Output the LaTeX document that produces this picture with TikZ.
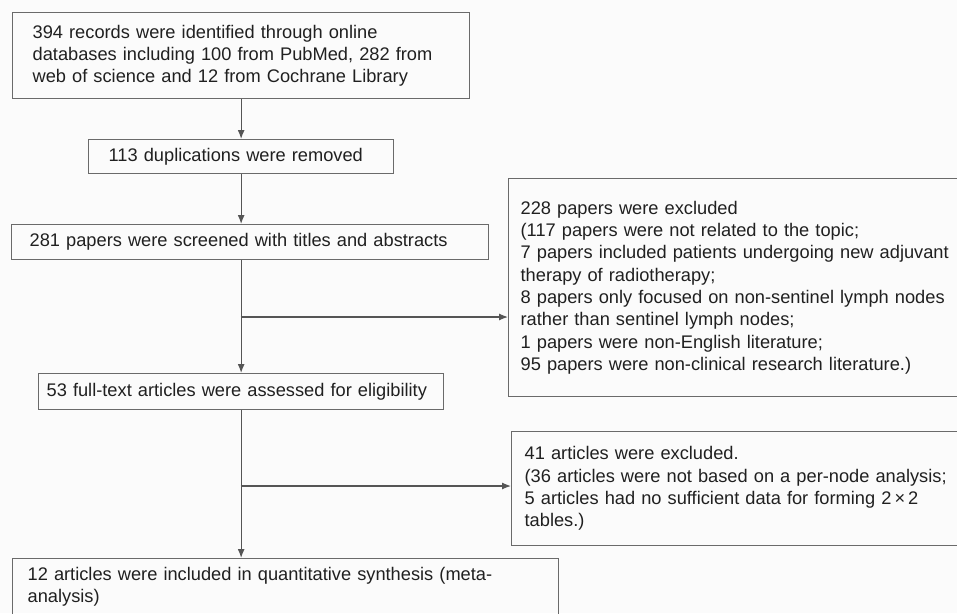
\documentclass[tikz,border=0pt]{standalone}
\usepackage{fontspec}
\setmainfont{Liberation Sans}
\usetikzlibrary{arrows.meta}
\definecolor{boxline}{HTML}{6A6A6A}
\definecolor{inktext}{HTML}{202020}
\definecolor{paper}{HTML}{FBFBFB}
\tikzset{
  stage/.style={draw=boxline, line width=1.3pt, anchor=north west, align=left,
    inner ysep=0pt, text=inktext, font=\fontsize{18.25}{22.3}\selectfont},
  flow/.style={draw=boxline!80!black, line width=1.2pt, -{Latex[length=9pt,width=7pt]}},
}
\begin{document}
\begin{tikzpicture}[x=1pt,y=-1pt]
      \useasboundingbox (0,0) rectangle (957,613);
      \clip (0,0) rectangle (957,613);
      \fill[paper] (0,0) rectangle (957,613);
      \draw
        (12,12) node[stage, inner xsep=20, minimum width=457, minimum height=86, text width=417] (rec)
          {394 records were identified through online\\databases including 100 from PubMed, 282 from\\web of science and 12 from Cochrane Library}
        (88,139) node[stage, inner xsep=20, minimum width=305, minimum height=34, text width=265] (dup)
          {113 duplications were removed}
        (11,224) node[stage, inner xsep=18, minimum width=477, minimum height=35, text width=441] (scr)
          {281 papers were screened with titles and abstracts}
        (508,178) node[stage, inner xsep=12, minimum width=470, minimum height=218, text width=446] (exc1)
          {228 papers were excluded\\(117 papers were not related to the topic;\\7 papers included patients undergoing new adjuvant\\therapy of radiotherapy;\\8 papers only focused on non-sentinel lymph nodes\\rather than sentinel lymph nodes;\\1 papers were non-English literature;\\95 papers were non-clinical research literature.)}
        (38,373) node[stage, inner xsep=8, minimum width=405, minimum height=36, text width=389] (full)
          {53 full-text articles were assessed for eligibility}
        (511,431) node[stage, inner xsep=13, minimum width=470, minimum height=114, text width=444] (exc2)
          {41 articles were excluded.\\(36 articles were not based on a per-node analysis;\\5 articles had no sufficient data for forming 2\,×\,2\\tables.)}
        (12,558) node[stage, inner xsep=15, minimum width=546, minimum height=56, text width=516] (incl)
          {12 articles were included in quantitative synthesis (meta-\\analysis)};
      \coordinate (sp1) at (240.5,317);
      \coordinate (sp2) at (240.5,486);
      \begin{scope}[flow]
        \draw (rec) to (dup);
        \draw (dup) to (dup.south |- scr.north);
        \draw (scr.south -| full.north) to (full);
        \draw (sp1) to (sp1 -| exc1.west);
        \draw (full) to (full.south |- incl.north);
        \draw (sp2) to (sp2 -| exc2.west);
      \end{scope}
    \end{tikzpicture}
\end{document}
